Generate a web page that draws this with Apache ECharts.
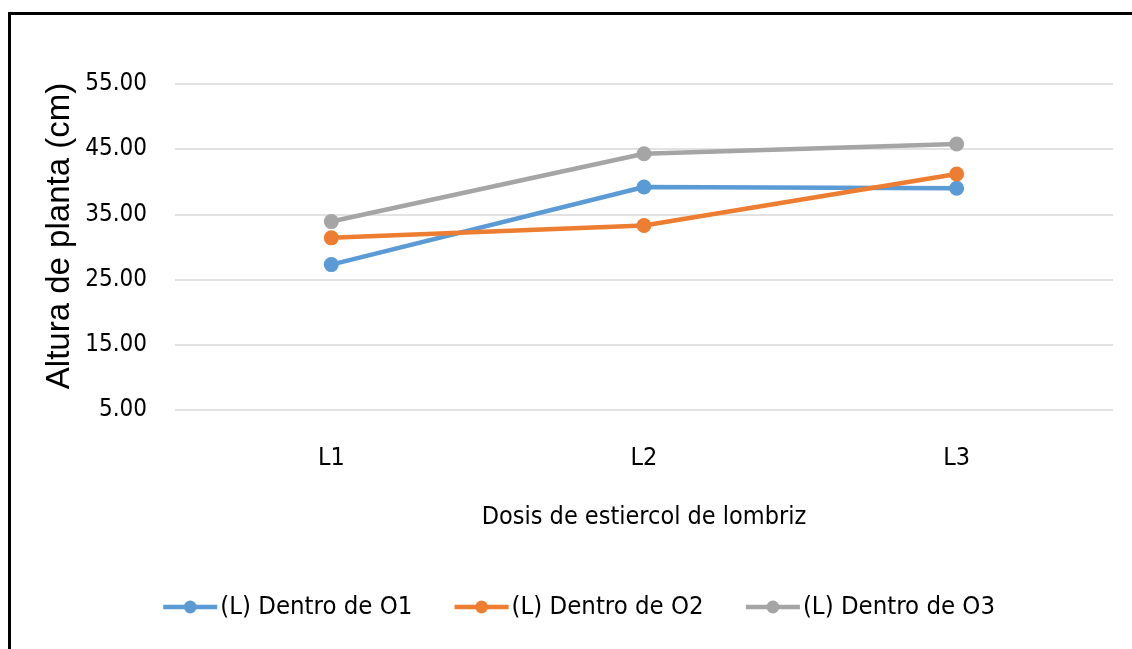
<!DOCTYPE html>
<html>
<head>
<meta charset="utf-8">
<script src="https://cdn.jsdelivr.net/npm/echarts@6/dist/echarts.min.js"></script>
<style>
  html, body { margin: 0; padding: 0; background: #ffffff; }
  #chart { width: 1132px; height: 649px; }
</style>
</head>
<body>
<div id="chart"></div>
<script>
// Dosis de estiercol de lombriz (categorías)
const categories = ['L1', 'L2', 'L3'];

// Altura de planta (cm) por nivel de O
const seriesNames = ['(L) Dentro de O1', '(L) Dentro de O2', '(L) Dentro de O3'];
const alturaO1 = [27.3, 39.2, 39.0];
const alturaO2 = [31.4, 33.3, 41.2];
const alturaO3 = [33.9, 44.3, 45.8];

// Marcas del eje vertical
const yTicks = [5, 15, 25, 35, 45, 55];

const colors = ['#5B9BD5', '#ED7D31', '#A5A5A5'];
const narrow = "'Liberation Sans Narrow', 'DejaVu Sans Condensed', 'Liberation Sans', sans-serif";

const chart = echarts.init(document.getElementById('chart'), null, { renderer: 'canvas' });

function lineSeries(name, data, color) {
  return {
    name: name,
    type: 'line',
    data: data,
    symbol: 'circle',
    symbolSize: 15,
    lineStyle: { width: 4.5, color: color },
    itemStyle: { color: color },
    emphasis: { disabled: true },
    z: 3
  };
}

chart.setOption({
  animation: false,
  backgroundColor: '#ffffff',
  color: colors,
  grid: { left: 175, right: 19, top: 84, bottom: 239, containLabel: false },
  xAxis: {
    type: 'category',
    data: categories,
    boundaryGap: true,
    axisLine: { show: false },
    axisTick: { show: false },
    axisLabel: { color: '#000000', fontFamily: narrow, fontSize: 25, margin: 36 },
    name: 'Dosis de estiercol de lombriz',
    nameLocation: 'middle',
    nameGap: 95,
    nameTextStyle: { color: '#000000', fontFamily: narrow, fontSize: 25 }
  },
  yAxis: {
    type: 'value',
    min: 5,
    max: 55,
    axisLine: { show: false },
    axisTick: { show: false, customValues: yTicks },
    axisLabel: {
      customValues: yTicks,
      color: '#000000',
      fontFamily: narrow,
      fontSize: 24,
      margin: 28,
      formatter: v => v.toFixed(2)
    },
    splitLine: { show: true, lineStyle: { color: '#d9d9d9', width: 1.5 } },
    name: 'Altura de planta (cm)',
    nameLocation: 'middle',
    nameMoveOverlap: false,
    nameGap: 99,
    nameRotate: 90,
    nameTextStyle: { color: '#000000', fontFamily: "'Liberation Sans', sans-serif", fontSize: 33, padding: [0, 0, 0, 22] }
  },
  legend: {
    data: seriesNames,
    left: 156,
    top: 589,
    itemWidth: 54,
    itemHeight: 16,
    itemGap: 40,
    lineStyle: { width: 4.5 },
    textStyle: { color: '#000000', fontFamily: narrow, fontSize: 25.5, padding: [0, 0, 0, -2] }
  },
  graphic: [
    { type: 'line', shape: { x1: 8, y1: 13.5, x2: 1132, y2: 13.5 }, style: { stroke: '#000000', lineWidth: 3 }, silent: true },
    { type: 'line', shape: { x1: 9.5, y1: 12, x2: 9.5, y2: 649 }, style: { stroke: '#000000', lineWidth: 3 }, silent: true }
  ],
  series: [
    lineSeries(seriesNames[0], alturaO1, colors[0]),
    lineSeries(seriesNames[1], alturaO2, colors[1]),
    lineSeries(seriesNames[2], alturaO3, colors[2])
  ]
});
</script>
</body>
</html>
